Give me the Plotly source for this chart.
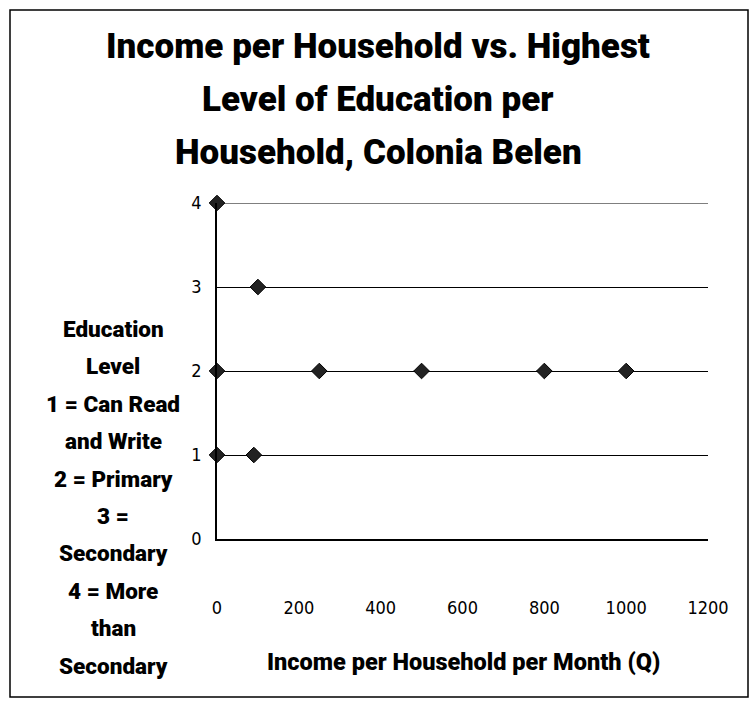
import plotly.graph_objects as go

income = [0, 100, 0, 250, 500, 800, 1000, 0, 90]
level = [4, 3, 2, 2, 2, 2, 2, 1, 1]
x_ticks = [0, 200, 400, 600, 800, 1000, 1200]
y_ticks = [0, 1, 2, 3, 4]
title_lines = ["Income per Household vs. Highest", "Level of Education per", "Household, Colonia Belen"]
ylab_lines = ["Education", "Level", "1 = Can Read", "and Write", "2 = Primary", "3 =",
              "Secondary", "4 = More", "than", "Secondary"]
xlab = "Income per Household per Month (Q)"

W, H = 756, 703
L, R, T, B = 217, 708, 203, 539


def px(xp):
    return (xp - L) / (R - L)


def py(yp):
    return (B - yp) / (B - T)


BOLD = "Roboto, Liberation Sans, sans-serif"
TICK = "DejaVu Sans Condensed, DejaVu Sans, sans-serif"

fig = go.Figure()
fig.add_trace(go.Scatter(
    x=income, y=level, mode="markers", cliponaxis=False,
    marker=dict(symbol="diamond", size=12, color="#222222", line=dict(color="black", width=1)),
    showlegend=False, hoverinfo="x+y"))

annotations = []
for i, t in enumerate(title_lines):
    annotations.append(dict(text=t, x=px(378), y=py(46 + 53 * i), xref="paper", yref="paper",
                            showarrow=False, xanchor="center", yanchor="middle",
                            font=dict(family=BOLD, size=35, color="black", weight=900)))
for i, t in enumerate(ylab_lines):
    annotations.append(dict(text=t, x=px(113), y=py(329 + 37.4 * i), xref="paper", yref="paper",
                            showarrow=False, xanchor="center", yanchor="middle",
                            font=dict(family=BOLD, size=22.5, color="black", weight=900)))
annotations.append(dict(text=xlab, x=px(463), y=py(662), xref="paper", yref="paper",
                        showarrow=False, xanchor="center", yanchor="middle",
                        font=dict(family=BOLD, size=23.5, color="black", weight=900)))

fig.update_layout(
    width=W, height=H, autosize=False,
    margin=dict(l=L, r=W - R, t=T, b=H - B),
    paper_bgcolor="white", plot_bgcolor="white",
    annotations=annotations,
    shapes=[
        dict(type="rect", xref="paper", yref="paper", x0=px(10), x1=px(748), y0=py(697), y1=py(10),
             line=dict(color="black", width=1.5), fillcolor="rgba(0,0,0,0)", layer="below"),
        dict(type="line", xref="paper", yref="y", x0=0, x1=1, y0=max(y_ticks), y1=max(y_ticks),
             line=dict(color="black", width=1), layer="below"),
    ],
    xaxis=dict(range=[0, 1200], tickvals=x_ticks, ticktext=[str(v) for v in x_ticks],
               showgrid=False, zeroline=False, showline=True, linecolor="black", linewidth=1.5,
               ticks="", ticklabelstandoff=52,
               tickfont=dict(family=TICK, size=18, color="black")),
    yaxis=dict(range=[0, 4], tickvals=y_ticks, ticktext=[str(v) for v in y_ticks],
               showgrid=True, gridcolor="black", gridwidth=1, zeroline=False,
               showline=True, linecolor="black", linewidth=1.5, ticks="", ticklabelstandoff=10,
               tickfont=dict(family=TICK, size=18, color="black")),
)

fig.write_html("out.html")
